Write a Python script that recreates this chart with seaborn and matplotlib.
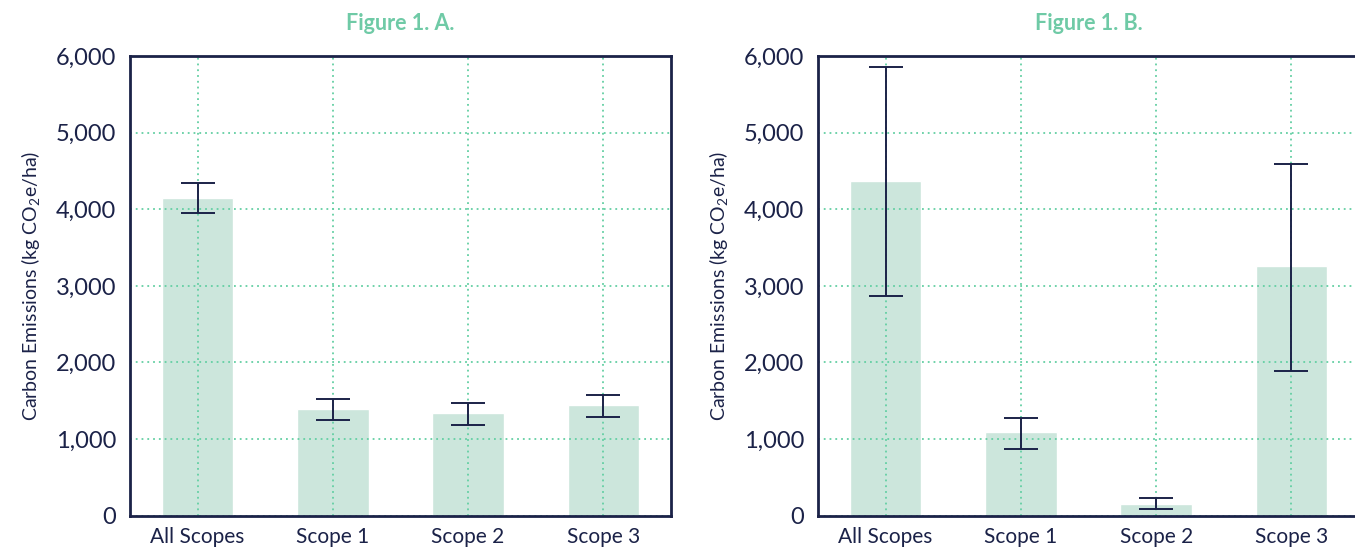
import numpy as np
import matplotlib
matplotlib.use("Agg")
import matplotlib.pyplot as plt
import seaborn as sns

# Scope categories shared by both panels
categories = ["All Scopes", "Scope 1", "Scope 2", "Scope 3"]

# Figure 1. A. — mean emissions with lower / upper error limits (kg CO2e/ha)
a_mean = [4150, 1392, 1340, 1444]
a_low = [3954, 1244, 1183, 1287]
a_high = [4346, 1518, 1473, 1573]

# Figure 1. B.
b_mean = [4370, 1091, 153, 3259]
b_low = [2868, 869, 91, 1892]
b_high = [5860, 1274, 235, 4586]

titles = ["Figure 1. A.", "Figure 1. B."]
yticks = [0, 1000, 2000, 3000, 4000, 5000, 6000]

NAVY = "#1b2248"
MINT = "#6fcaa6"
BAR = "#cce6dc"
GRID = "#63cfa3"

sns.set_theme(style="white")
plt.rcParams["font.family"] = ["Lato", "DejaVu Sans"]
plt.rcParams["mathtext.fontset"] = "custom"
plt.rcParams["mathtext.rm"] = "Lato"
plt.rcParams["mathtext.it"] = "Lato"

fig = plt.figure(figsize=(13.55, 5.49), dpi=100)
ax_a = fig.add_axes([130 / 1355, 0.0608, 541 / 1355, 0.837])
ax_b = fig.add_axes([818 / 1355, 0.0608, 541 / 1355, 0.837])

panels = [
    (ax_a, a_mean, a_low, a_high, titles[0]),
    (ax_b, b_mean, b_low, b_high, titles[1]),
]

for ax, mean, low, high, title in panels:
    mean = np.asarray(mean, dtype=float)
    low = np.asarray(low, dtype=float)
    high = np.asarray(high, dtype=float)

    sns.barplot(x=categories, y=mean, color=BAR, width=0.53,
                errorbar=None, ax=ax, zorder=1, saturation=1)
    ax.errorbar(np.arange(len(categories)), mean,
                yerr=[mean - low, high - mean], fmt="none",
                ecolor=NAVY, elinewidth=1.4, capsize=12.5, capthick=1.4,
                zorder=4)

    ax.set_xlim(-0.5, 3.5)
    ax.set_ylim(0, 6000)
    ax.set_yticks(yticks)
    ax.set_yticklabels([f"{v:,}" for v in yticks])

    ax.grid(True, axis="both", color=GRID, linestyle=(0, (1, 2.2)),
            linewidth=1.3, zorder=3)
    ax.set_axisbelow(False)
    for line in ax.get_xgridlines() + ax.get_ygridlines():
        line.set_zorder(2)

    for side in ["left", "right", "top", "bottom"]:
        ax.spines[side].set_color(NAVY)
        ax.spines[side].set_linewidth(2)
        ax.spines[side].set_zorder(5)

    ax.tick_params(axis="y", which="major", length=6, width=1.2,
                   color=GRID, labelsize=17, labelcolor=NAVY, pad=4)
    ax.tick_params(axis="x", which="major", length=0,
                   labelsize=15, labelcolor=NAVY, pad=8)

    ax.set_xlabel("")
    ax.set_ylabel("Carbon Emissions (kg CO$_2$e/ha)", fontsize=14,
                  color=NAVY, labelpad=10)
    ax.set_title(title, fontsize=15.5, fontweight="bold", color=MINT, pad=19)

fig.savefig("out.png", dpi=100)
